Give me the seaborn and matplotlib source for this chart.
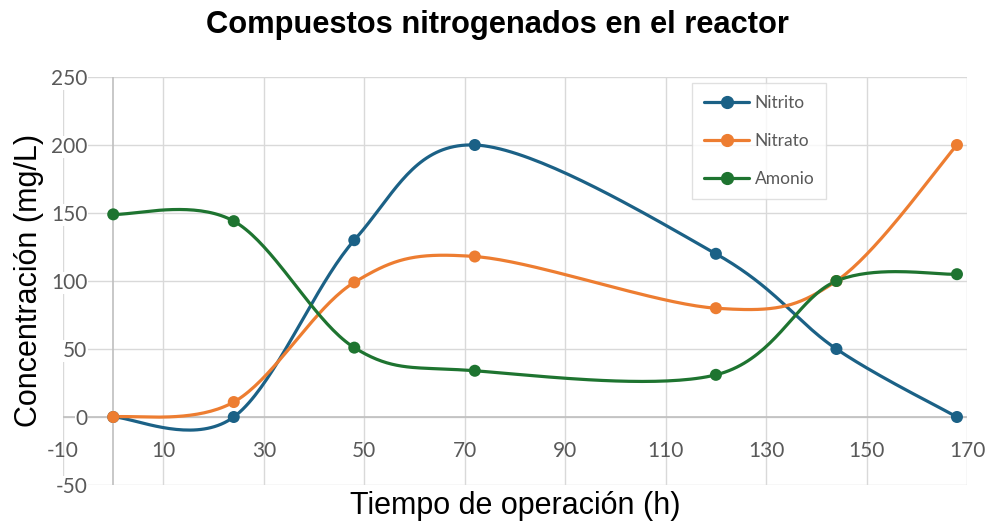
import numpy as np
import pandas as pd
import matplotlib
matplotlib.use("Agg")
import matplotlib.pyplot as plt
from matplotlib.lines import Line2D
import seaborn as sns

# ---- data ----
tiempo = [0, 24, 48, 72, 120, 144, 168]
nitrito = [0, 0, 130, 200, 120, 50, 0]
nitrato = [0, 11, 99, 118, 80, 100, 200]
amonio = [149, 144, 51, 34, 31, 100, 105]
series_names = ["Nitrito", "Nitrato", "Amonio"]
colors = ["#1b6186", "#ed7d31", "#1e7430"]
x_ticks = [-10, 10, 30, 50, 70, 90, 110, 130, 150, 170]
y_ticks = [-50, 0, 50, 100, 150, 200, 250]


def smooth(xs, ys, n=40):
    """Excel-style smoothed line: cubic Bezier segments (Catmull-Rom, 1/6 tension)."""
    P = np.column_stack([xs, ys]).astype(float)
    m = len(P)
    out = []
    for i in range(m - 1):
        p0 = P[i - 1] if i > 0 else P[i]
        p1 = P[i]
        p2 = P[i + 1]
        p3 = P[i + 2] if i + 2 < m else P[i + 1]
        c1 = p1 + (p2 - p0) / 6.0
        c2 = p2 - (p3 - p1) / 6.0
        t = np.linspace(0, 1, n, endpoint=(i == m - 2))[:, None]
        b = ((1 - t) ** 3) * p1 + 3 * ((1 - t) ** 2) * t * c1 + 3 * (1 - t) * t ** 2 * c2 + t ** 3 * p2
        out.append(b)
    out = np.vstack(out)
    return out[:, 0], out[:, 1]


sns.set_theme(style="white")
plt.rcParams["font.family"] = ["Liberation Sans", "DejaVu Sans"]

fig = plt.figure(figsize=(9.9, 5.23), dpi=100)
ax = fig.add_axes([63 / 990, 1 - 485 / 523, (967 - 63) / 990, (485 - 77) / 523])

points = pd.DataFrame({
    "t": tiempo * 3,
    "c": nitrito + nitrato + amonio,
    "serie": sum([[s] * len(tiempo) for s in series_names], []),
})

curves = []
for name, vals in zip(series_names, [nitrito, nitrato, amonio]):
    sx, sy = smooth(tiempo, vals)
    curves.append(pd.DataFrame({"t": sx, "c": sy, "serie": name, "order": np.arange(len(sx))}))
curves = pd.concat(curves, ignore_index=True)

palette = dict(zip(series_names, colors))

# gridlines
for xv in x_ticks:
    ax.axvline(xv, color="#d9d9d9", lw=1.0, zorder=0)
for yv in y_ticks:
    ax.axhline(yv, color="#d9d9d9", lw=1.0, zorder=0)
ax.axvline(0, color="#bfbfbf", lw=1.2, zorder=0.5)
ax.axhline(0, color="#bfbfbf", lw=1.2, zorder=0.5)

sns.lineplot(data=curves, x="t", y="c", hue="serie", palette=palette, sort=False,
             estimator=None, units="serie", lw=2.3, ax=ax, legend=False, zorder=3)
sns.scatterplot(data=points, x="t", y="c", hue="serie", palette=palette, s=75,
                edgecolor="none", ax=ax, legend=False, zorder=4)

ax.set_xlim(-10, 170)
ax.set_ylim(-50, 250)
for sp in ax.spines.values():
    sp.set_visible(False)

ax.set_yticks(y_ticks)
ax.set_yticklabels([str(v) for v in y_ticks])
ax.set_xticks([])
ax.tick_params(axis="y", length=0, pad=-17.5, labelsize=15, labelcolor="#595959")
for lab in ax.get_yticklabels():
    lab.set_fontfamily(["Lato", "DejaVu Sans"])
    lab.set_bbox(dict(facecolor="white", edgecolor="none", pad=0.5))
    lab.set_zorder(5)

# x tick labels sit just under the y=0 axis
for xv in x_ticks:
    ax.text(xv, -25, str(xv), ha="center", va="center", fontsize=15, color="#595959",
            family=["Lato", "DejaVu Sans"], zorder=5)

ax.set_xlabel("")
ax.set_ylabel("")
fig.text(515 / 990, 1 - 506 / 523, "Tiempo de operación (h)", ha="center", va="center",
         fontsize=22, color="black")
fig.text(29 / 990, 1 - 280 / 523, "Concentración (mg/L)", ha="center", va="center",
         rotation=90, fontsize=22, color="black")
fig.text(497 / 990, 1 - 25 / 523, "Compuestos nitrogenados en el reactor", ha="center",
         va="center", fontsize=22.2, fontweight="bold", color="black")

handles = [Line2D([0], [0], color=c, lw=2.3, marker="o", markersize=8.5) for c in colors]
leg = ax.legend(handles, series_names, loc="upper left", bbox_to_anchor=(692 / 990, 1 - 83 / 523),
                bbox_transform=fig.transFigure, frameon=True, fancybox=False,
                prop={"family": ["Lato", "DejaVu Sans"], "size": 12.5}, labelcolor="#595959",
                handlelength=2.6, handletextpad=0.3, labelspacing=1.27, borderpad=0.7,
                borderaxespad=0)
leg.get_frame().set_edgecolor("#d9d9d9")
leg.get_frame().set_linewidth(1.0)
leg.set_zorder(6)

fig.savefig("out.png", dpi=100, facecolor="white")
